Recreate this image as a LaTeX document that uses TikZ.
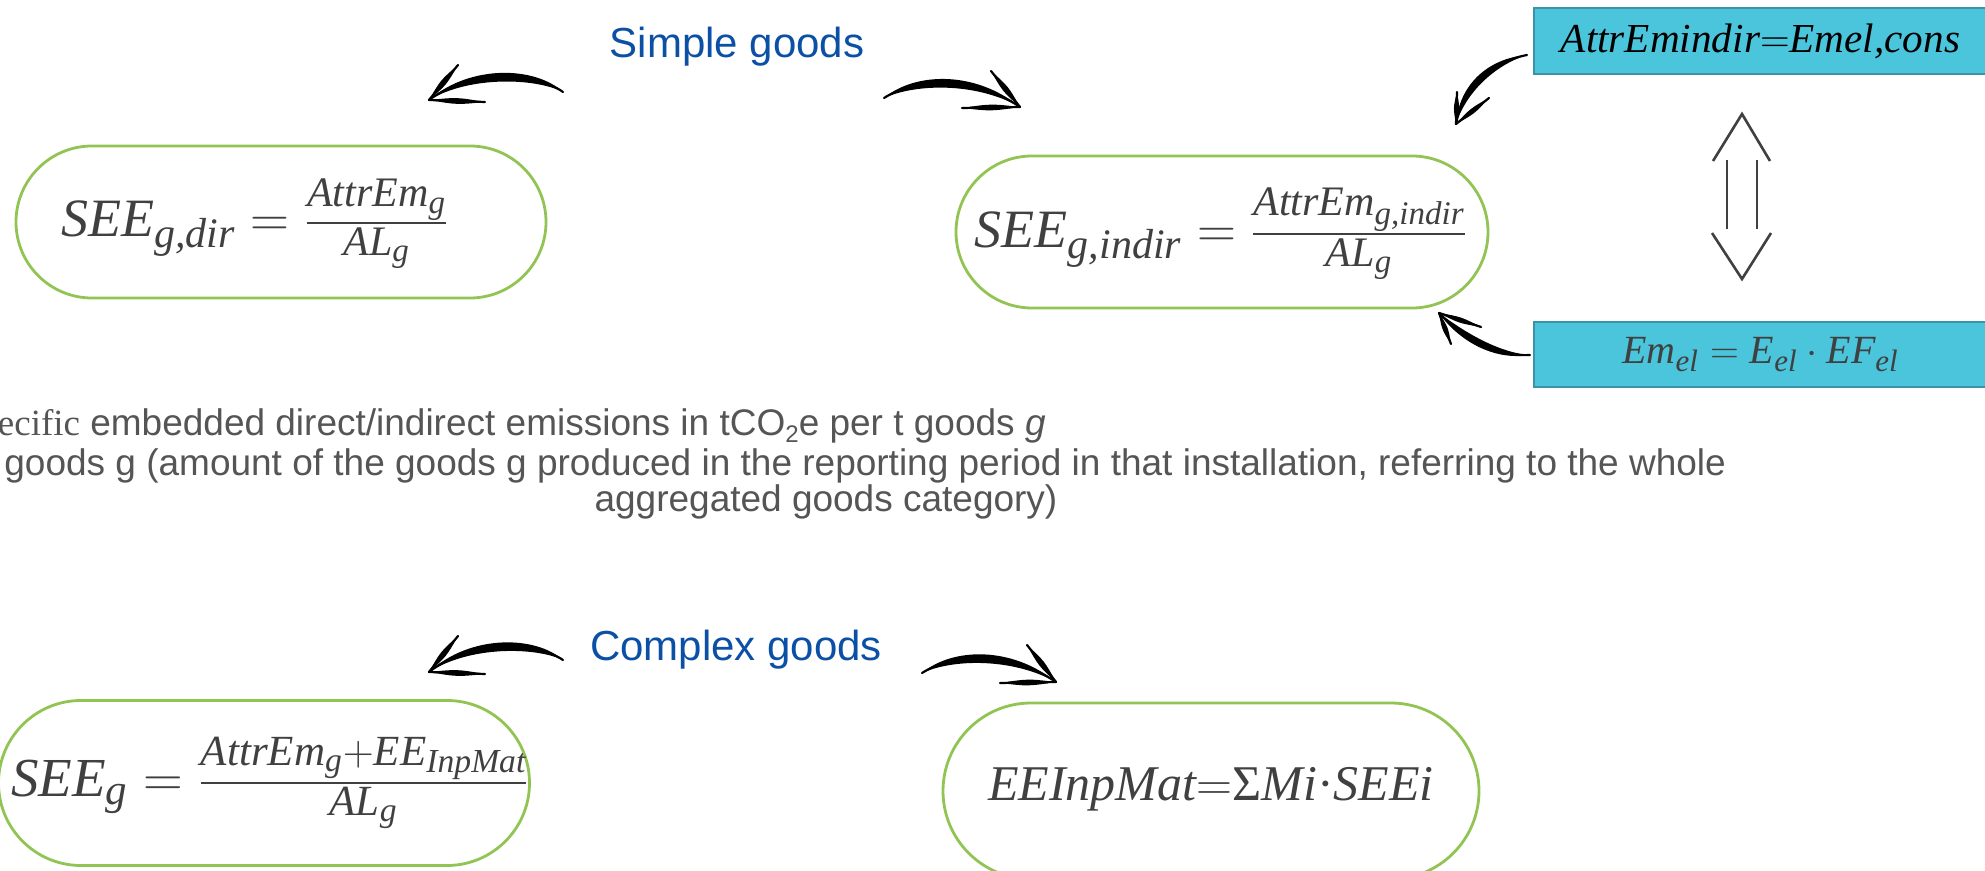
\RequirePackage{fix-cm}
\documentclass[tikz,border=0pt]{standalone}
\usepackage{amsmath}
\usepackage[no-math]{fontspec}
\setmainfont{Liberation Sans}
\newfontfamily\serifpart{Liberation Serif}
\newfontfamily\mathletters{Liberation Serif}
\usetikzlibrary{calc}

% sizes used by the formulas: text, script, scriptscript
\DeclareMathSizes{27}{27}{21}{16.5}
\DeclareMathSizes{27.5}{27.5}{21.5}{16.8}
\DeclareMathSizes{25}{25}{19.5}{15}
\DeclareMathSizes{20.6}{20.6}{16}{12.5}
\DeclareMathSizes{20}{20}{15.5}{12}

% italic letters in formulas
\newcommand\mv[1]{\text{\mathletters\itshape #1}}
\newcommand\mup[1]{\text{\mathletters #1}}

\definecolor{pillgreen}{HTML}{92C454}
\definecolor{boxcyan}{HTML}{4BC5DC}
\definecolor{boxedge}{HTML}{3B93A8}
\definecolor{inkgray}{HTML}{404040}
\definecolor{bodygray}{HTML}{555555}
\definecolor{headblue}{HTML}{0B50A5}

% tapered brush stroke: start, control 1, control 2, end, half thickness
\newcommand\brush[5]{%
  \fill[black] (#1) .. controls ($(#2)!#5!90:(#3)$) and ($(#3)!#5!-90:(#2)$) .. (#4)
    .. controls ($(#3)!#5!90:(#2)$) and ($(#2)!#5!-90:(#3)$) .. (#1) -- cycle;
  \draw[black, line width=1.1pt, line cap=round] (#1) .. controls (#2) and (#3) .. (#4);}
% tapered barb of an arrow head: tip, free end, half thickness
\newcommand\barb[3]{%
  \fill[black] (#1) .. controls ($(#1)!0.5!(#2)!#3!90:(#2)$) .. (#2)
    .. controls ($(#1)!0.5!(#2)!#3!-90:(#2)$) .. (#1) -- cycle;
  \draw[black, line width=1.1pt, line cap=round] (#1) -- (#2);}

\tikzset{
  pill/.style={draw=pillgreen, line width=1.4pt, rectangle, inner sep=0pt},
  formula/.style={text=inkgray, inner sep=0pt},
  cyanbox/.style={draw=boxedge, fill=boxcyan, line width=1pt, rectangle, inner sep=0pt,
    minimum width=226.5pt},
  heading/.style={text=headblue, inner sep=0pt, font=\fontsize{21pt}{24pt}\selectfont},
  bodytext/.style={text=bodygray, inner sep=0pt, font=\fontsize{18.5pt}{22pt}\selectfont},
  hollow/.style={draw=inkgray, line width=1.3pt},
}

\begin{document}
\begin{tikzpicture}[x=0.5pt, y=-0.5pt]
\useasboundingbox (0,0) rectangle (1985,871);

% formula pills
\node[pill, minimum width=265pt, minimum height=76pt, rounded corners=38pt] (pdir) at (281,222) {};
\node[formula, font=\fontsize{27}{32}\selectfont] (fdir) at (255,224)
  {$\mv{SEE}_{\mv{g,dir}}=\frac{\mv{AttrEm}_{\mv{g}}}{\mv{AL}_{\mv{g}}}$};

\node[pill, minimum width=266pt, minimum height=76pt, rounded corners=38pt] (pindir) at (1222,232) {};
\node[formula, font=\fontsize{27}{32}\selectfont] (findir) at (1221,234)
  {$\mv{SEE}_{\mv{g,indir}}=\frac{\mv{AttrEm}_{\mv{g,indir}}}{\mv{AL}_{\mv{g}}}$};

\node[pill, minimum width=265.5pt, minimum height=82.5pt, rounded corners=41.25pt] (pcomp) at (264,783) {};
\node[formula, font=\fontsize{27.5}{32}\selectfont] (fcomp) at (270,783)
  {$\mv{SEE}_{\mv{g}}=\frac{\mv{AttrEm}_{\mv{g}}+\mv{EE}_{\mv{InpMat}}}{\mv{AL}_{\mv{g}}}$};

\node[pill, minimum width=268pt, minimum height=88pt, rounded corners=44pt] (pmat) at (1211,791) {};
\node[formula, font=\fontsize{25}{30}\selectfont] (fmat) at (1211,789)
  {$\mv{EEInpMat}{=}\mup{Σ}\mv{Mi}\mup{·}\mv{SEEi}$};

% electricity boxes
\node[cyanbox, minimum height=33pt, text=black, font=\fontsize{20.6}{24}\selectfont] (battr) at (1760.5,41)
  {$\mv{AttrEmindir}{=}\mv{Emel,cons}$};
\node[cyanbox, minimum height=32.5pt, text=inkgray, font=\fontsize{20}{24}\selectfont] (bel) at (1760.5,354.5)
  {$\mv{Em}_{\mv{el}}=\mv{E}_{\mv{el}}\cdot\mv{EF}_{\mv{el}}$};

% equivalence sign between the boxes
\draw[hollow] (1713,161) -- (1742,114) -- (1770,161);
\draw[hollow] (1727,160) -- (1727,229);
\draw[hollow] (1757,160) -- (1757,229);
\draw[hollow] (1712,233) -- (1742,279) -- (1771,233);

% headings
\node[heading] (simple) at (737,47) {Simple goods};
\node[heading] (complex) at (736,650) {Complex goods};

% explanation lines
\node[bodytext, anchor=base east] (line1) at (1046,436)
  {{\serifpart ecific} embedded direct/indirect emissions in tCO\raisebox{-0.35ex}{\fontsize{12pt}{12pt}\selectfont 2}e per t goods \textit{g}};
\node[bodytext, anchor=base west] (line2) at (4,475)
  {goods g (amount of the goods g produced in the reporting period in that installation, referring to the whole};
\node[bodytext, anchor=base] (line3) at (826,511) {aggregated goods category)};

% brush arrows
\coordinate (a1tail) at (563,92);   \coordinate (a1tip) at (429,100);
\coordinate (a2tail) at (884,98);   \coordinate (a2tip) at (1020,107);
\coordinate (a3tail) at (563,660);  \coordinate (a3tip) at (429,672);
\coordinate (a4tail) at (922,673);  \coordinate (a4tip) at (1056,682);
\coordinate (a5tail) at (1527,55);  \coordinate (a5tip) at (1456,124);
\coordinate (a6tail) at (1530,355); \coordinate (a6tip) at (1439,313);

\brush{a1tail}{535,72}{470,70}{a1tip}{2.9pt}
\barb{a1tip}{458,65}{1.9pt}
\barb{a1tip}{485,102}{1.9pt}

\brush{a2tail}{915,78}{975,76}{a2tip}{2.9pt}
\barb{a2tip}{991,71}{1.9pt}
\barb{a2tip}{962,108}{1.9pt}

\brush{a3tail}{535,641}{470,640}{a3tip}{2.9pt}
\barb{a3tip}{458,636}{1.9pt}
\barb{a3tip}{485,674}{1.9pt}

\brush{a4tail}{953,653}{1012,652}{a4tip}{2.9pt}
\barb{a4tip}{1027,645}{1.9pt}
\barb{a4tip}{1000,683}{1.9pt}

\brush{a5tail}{1490,62}{1462,90}{a5tip}{2.5pt}
\barb{a5tip}{1457,92}{1.7pt}
\barb{a5tip}{1489,98}{1.7pt}

\brush{a6tail}{1495,357}{1460,335}{a6tip}{2.5pt}
\barb{a6tip}{1451,344}{1.7pt}
\barb{a6tip}{1481,327}{1.7pt}
\end{tikzpicture}
\end{document}
